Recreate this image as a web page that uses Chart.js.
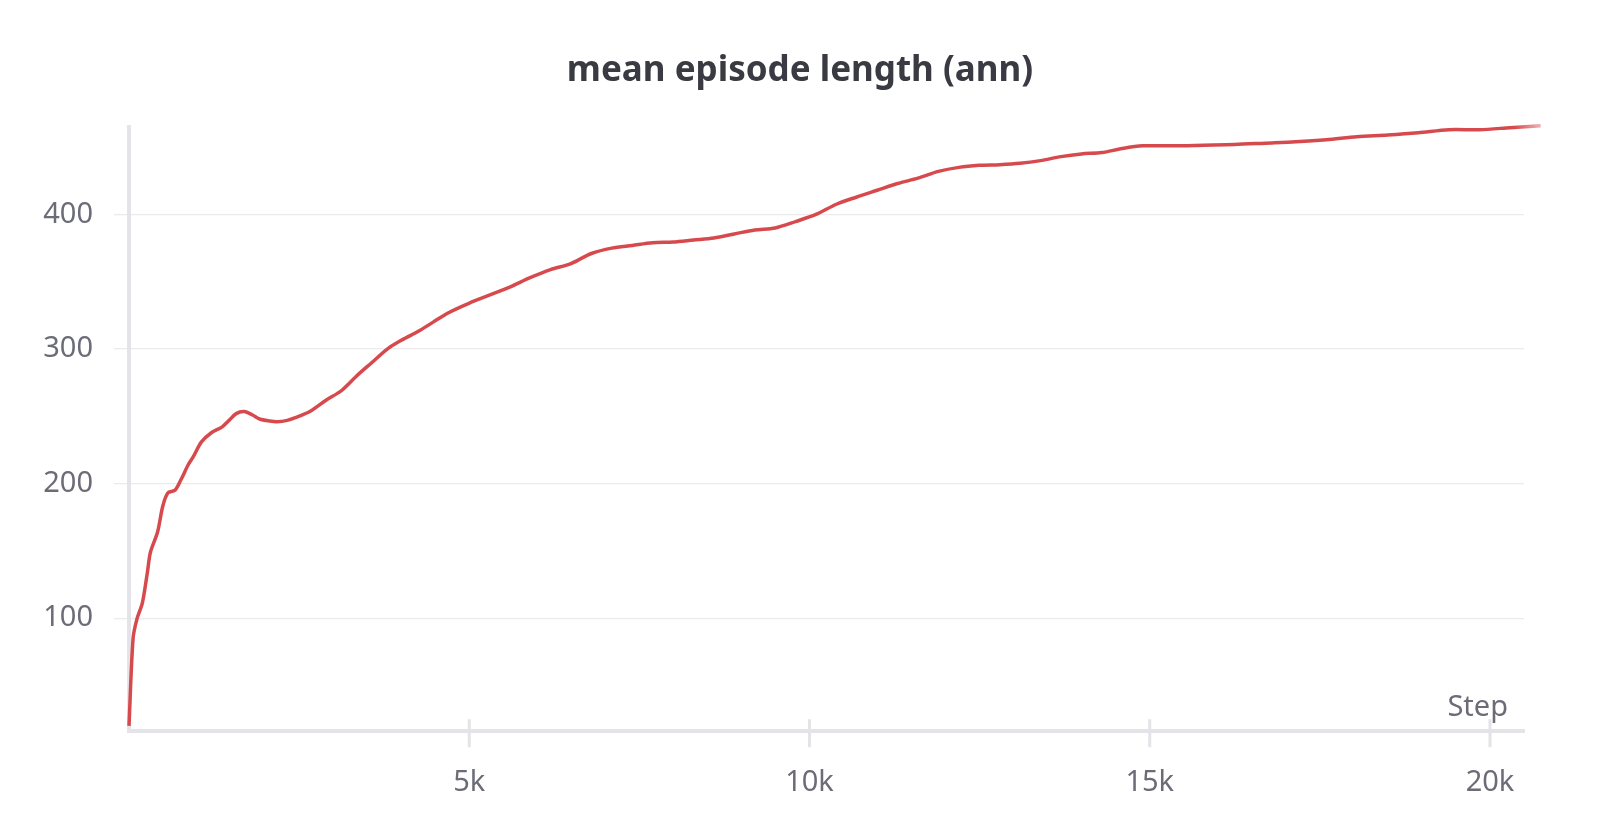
<!DOCTYPE html>
<html>
<head>
<meta charset="utf-8">
<script src="https://cdn.jsdelivr.net/npm/chart.js@4.4.1/dist/chart.umd.min.js"></script>
<style>
  html, body { margin: 0; padding: 0; background: #ffffff; }
  #wrap { width: 1600px; height: 840px; position: relative; }
</style>
</head>
<body>
<div id="wrap"><canvas id="lenChart" width="1600" height="840"></canvas></div>
<script>
// ---- DATA ----
const steps = [
    0, 60, 120, 195, 270, 315, 420, 495, 570, 675, 765, 870, 945, 1065, 1215, 1365,
    1470, 1575, 1695, 1815, 1920, 2070, 2175, 2325, 2445, 2670, 2895, 3120, 3345, 3570,
    3795, 4020, 4245, 4470, 4695, 4995, 5295, 5595, 5895, 6195, 6495, 6795, 7095, 7395,
    7695, 7995, 8295, 8595, 8895, 9195, 9495, 9795, 10095, 10395, 10695, 10995, 11295,
    11595, 11895, 12195, 12495, 12795, 13095, 13395, 13695, 13995, 14295, 14595, 14895,
    15345, 15795, 16245, 16695, 17145, 17595, 18045, 18495, 18945, 19395, 19845, 20295,
    20745, 21000
];
const meanLength = [
    20, 85, 100, 111, 134, 149, 164, 183, 193, 195, 203, 214, 220, 231, 238, 242,
    247, 252, 253.5, 251, 248, 246.5, 246, 247, 249, 254, 262, 269, 280, 290,
    300, 307, 313, 320, 327, 334, 340, 346, 353, 359, 363.5, 371, 375, 377,
    379, 379.5, 381, 382.5, 385.5, 388.5, 390, 394.7, 400, 407.6, 413, 418, 423,
    427, 432, 435, 436.5, 437, 438, 440, 443, 445, 446, 449, 451,
    451, 451.5, 452, 453, 454, 455.5, 457.7, 459, 460.7, 463, 463, 464.5,
    466, 466.8
];
const yTicks = [100, 200, 300, 400];
const xTicks = [5000, 10000, 15000, 20000];
const chartTitle = 'mean episode length (ann)';

const axisGrey = '#e4e4e8';
const textGrey = '#6c6c78';
const lineRed = '#d64a4d';
const fontFam = "'Source Sans Pro', 'Noto Sans', sans-serif";

// title centred on the whole canvas, x tick marks crossing the axis, "Step" caption
const extras = {
    id: 'extras',
    afterDraw(chart) {
        const ctx = chart.ctx;
        const xs = chart.scales.x;
        const bottom = chart.chartArea.bottom;
        ctx.save();
        ctx.strokeStyle = axisGrey;
        ctx.lineWidth = 3;
        xTicks.forEach(v => {
            const px = xs.getPixelForValue(v);
            ctx.beginPath();
            ctx.moveTo(px, bottom - 12);
            ctx.lineTo(px, bottom + 16);
            ctx.stroke();
        });

        ctx.fillStyle = textGrey;
        ctx.font = '29px ' + fontFam;
        ctx.textAlign = 'right';
        ctx.textBaseline = 'alphabetic';
        ctx.fillText('Step', chart.chartArea.right - 16, bottom - 15);

        ctx.fillStyle = '#3a3b42';
        ctx.font = 'bold 35px ' + fontFam;
        ctx.textAlign = 'center';
        ctx.textBaseline = 'middle';
        ctx.fillText(chartTitle, chart.width / 2, 71);
        ctx.restore();
    }
};

const canvas = document.getElementById('lenChart');
new Chart(canvas, {
    type: 'line',
    data: {
        datasets: [{
            label: chartTitle,
            data: steps.map((s, i) => ({ x: s, y: meanLength[i] })),
            borderColor: ctx => {
                const area = ctx.chart.chartArea;
                if (!area) return lineRed;
                const g = ctx.chart.ctx.createLinearGradient(area.right - 10, 0, area.right + 36, 0);
                g.addColorStop(0, lineRed);
                g.addColorStop(1, 'rgba(214,74,77,0)');
                return g;
            },
            borderWidth: 3.5,
            pointRadius: 0,
            tension: 0.3,
            clip: false
        }]
    },
    options: {
        responsive: false,
        animation: false,
        layout: { padding: { left: 0, right: 76, top: 127, bottom: 6 } },
        plugins: {
            legend: { display: false },
            tooltip: { enabled: false },
            title: { display: false }
        },
        scales: {
            x: {
                type: 'linear',
                min: 0,
                max: 20500,
                afterBuildTicks: s => { s.ticks = xTicks.map(v => ({ value: v })); },
                ticks: {
                    color: textGrey,
                    font: { family: fontFam, size: 29 },
                    padding: 34,
                    maxRotation: 0,
                    callback: v => (v / 1000) + 'k'
                },
                grid: { display: false, drawTicks: false },
                border: { display: true, color: axisGrey, width: 4 }
            },
            y: {
                min: 16,
                max: 465,
                afterBuildTicks: s => { s.ticks = yTicks.map(v => ({ value: v })); },
                afterFit: s => { s.width = 129; },
                ticks: {
                    color: textGrey,
                    font: { family: fontFam, size: 29 },
                    padding: 21
                },
                grid: { color: '#ebebee', lineWidth: 1.3, tickLength: 15 },
                border: { display: true, color: axisGrey, width: 4 }
            }
        }
    },
    plugins: [extras]
});
</script>
</body>
</html>
